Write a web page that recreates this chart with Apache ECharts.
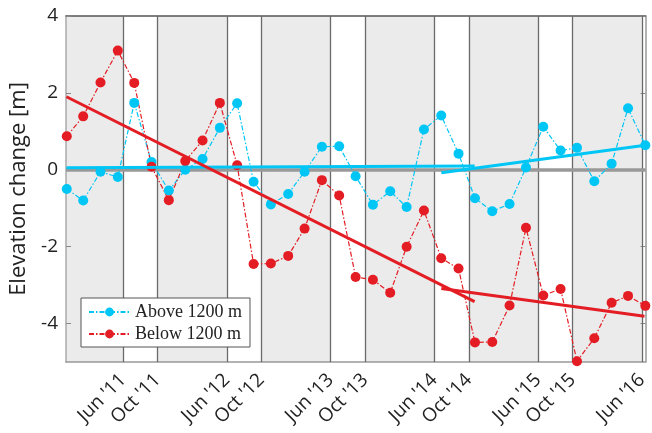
<!DOCTYPE html>
<html>
<head>
<meta charset="utf-8">
<script src="https://cdn.jsdelivr.net/npm/echarts@6/dist/echarts.min.js"></script>
<style>
  html, body { margin: 0; padding: 0; background: #fff; }
  #chart { width: 652px; height: 433px; }
</style>
</head>
<body>
<div id="chart"></div>
<script>
// 时间: 以 2011年1月 = 0 的月份计
var months = [-1.5, 0.4, 2.4, 4.4, 6.3, 8.3, 10.3, 12.2, 14.2, 16.2, 18.2, 20.1,
  22.1, 24.1, 26.0, 28.0, 30.0, 31.9, 33.9, 35.9, 37.8, 39.8, 41.8, 43.8,
  45.7, 47.7, 49.7, 51.6, 53.6, 55.6, 57.5, 59.5, 61.5, 63.4, 65.4];
// Above 1200 m
var aboveVals = [-0.5, -0.8, -0.05, -0.19, 1.74, 0.2, -0.54, 0.0, 0.28, 1.09, 1.73, -0.31,
  -0.9, -0.63, -0.05, 0.6, 0.61, -0.17, -0.91, -0.56, -0.97, 1.05, 1.41, 0.42,
  -0.74, -1.08, -0.89, 0.06, 1.12, 0.5, 0.57, -0.3, 0.16, 1.6, 0.64];
// Below 1200 m
var belowVals = [0.87, 1.39, 2.27, 3.1, 2.26, 0.08, -0.79, 0.23, 0.76, 1.74, 0.12, -2.45,
  -2.44, -2.24, -1.53, -0.27, -0.67, -2.79, -2.86, -3.2, -2.0, -1.06, -2.3, -2.57,
  -4.49, -4.48, -3.53, -1.51, -3.27, -3.1, -4.98, -4.38, -3.46, -3.28, -3.54];
// 趋势线端点 [月份, 值]
var aboveTrendA = [[-1.54, 0.05], [45.66, 0.1]];
var aboveTrendB = [[41.81, -0.08], [65.4, 0.64]];
var belowTrendA = [[-1.54, 1.9], [45.66, -3.43]];
var belowTrendB = [[41.81, -3.09], [65.3, -3.81]];
// 刻度
var tickMonths = [5, 9, 17, 21, 29, 33, 41, 45, 53, 57, 65];
var tickLabels = ["Jun '11", "Oct '11", "Jun '12", "Oct '12", "Jun '13", "Oct '13",
  "Jun '14", "Oct '14", "Jun '15", "Oct '15", "Jun '16"];
var yTicks = [-4, -2, 0, 2, 4];

var xMin = -1.59, xMax = 65.42;
var blue = "#00c6f6", red = "#e31d23";
var labelFont = "Open Sans";

function pairs(xs, ys) {
  return xs.map(function (x, i) { return [x, ys[i]]; });
}

// 灰色背景带 (Oct - Jun)
var bands = [[{ xAxis: xMin }, { xAxis: tickMonths[0] }]];
for (var i = 1; i + 1 < tickMonths.length; i += 2) {
  bands.push([{ xAxis: tickMonths[i] }, { xAxis: tickMonths[i + 1] }]);
}
var vLines = tickMonths.map(function (m) { return { xAxis: m }; });

var chart = echarts.init(document.getElementById("chart"));
var dashDot = [5, 2, 1.5, 2];

var option = {
  animation: false,
  grid: { left: 66, right: 6.5, top: 16, bottom: 71 },
  legend: {
    data: ["Above 1200 m", "Below 1200 m"],
    orient: "vertical",
    left: 81,
    top: 298,
    z: 20,
    itemWidth: 41,
    itemHeight: 11,
    itemGap: 4,
    padding: [5, 8, 4, 7],
    backgroundColor: "#fff",
    borderColor: "#555",
    borderWidth: 1,
    borderRadius: 0,
    textStyle: { fontFamily: "Liberation Serif", fontSize: 18, color: "#222" }
  },
  xAxis: [
    {
      type: "value",
      min: xMin,
      max: xMax,
      axisLine: { show: true, onZero: false, lineStyle: { color: "#999", width: 1.5 } },
      axisTick: { show: false },
      splitLine: { show: false },
      axisLabel: {
        customValues: tickMonths,
        rotate: 45,
        margin: 15,
        fontFamily: labelFont,
        fontSize: 19,
        color: "#222",
        formatter: function (v) {
          var k = tickMonths.indexOf(v);
          return k >= 0 ? tickLabels[k] : "";
        }
      }
    },
    {
      type: "value",
      position: "top",
      min: xMin,
      max: xMax,
      axisLine: { show: true, onZero: false, lineStyle: { color: "#555", width: 1.5 } },
      axisTick: { show: false },
      axisLabel: { show: false },
      splitLine: { show: false }
    }
  ],
  yAxis: [
    {
      type: "value",
      min: -5,
      max: 4,
      name: "Elevation change [m]",
      nameLocation: "middle",
      nameGap: 26,
      nameTextStyle: { fontFamily: labelFont, fontSize: 22, color: "#222" },
      axisLine: { show: true, onZero: false, lineStyle: { color: "#aaa", width: 1.5 } },
      axisTick: { show: true, inside: true, length: 5, customValues: yTicks, lineStyle: { color: "#888" } },
      splitLine: { show: false },
      axisLabel: {
        customValues: yTicks,
        margin: 8,
        fontFamily: labelFont,
        fontSize: 19,
        color: "#222"
      }
    },
    {
      type: "value",
      position: "right",
      min: -5,
      max: 4,
      axisLine: { show: true, onZero: false, lineStyle: { color: "#999", width: 1.5 } },
      axisTick: { show: true, inside: true, length: 5, customValues: yTicks, lineStyle: { color: "#888" } },
      axisLabel: { show: false },
      splitLine: { show: false }
    }
  ],
  series: [
    // 背景: 灰带, 竖线, 零线
    {
      type: "line",
      data: [],
      silent: true,
      z: 0,
      markArea: {
        silent: true,
        z: 0,
        itemStyle: { color: "#ebebeb" },
        data: bands
      },
      markLine: {
        silent: true,
        z: 1,
        symbol: "none",
        label: { show: false },
        data: vLines.concat([{ yAxis: 0, lineStyle: { color: "#999", width: 3.5 } }]),
        lineStyle: { color: "#6a6a6a", width: 1.3, type: "solid" }
      }
    },
    {
      name: "Above 1200 m",
      type: "line",
      data: pairs(months, aboveVals),
      symbol: "circle",
      symbolSize: 10,
      color: blue,
      lineStyle: { width: 1.2, type: dashDot },
      z: 3
    },
    {
      name: "Below 1200 m",
      type: "line",
      data: pairs(months, belowVals),
      symbol: "circle",
      symbolSize: 10,
      color: red,
      lineStyle: { width: 1.2, type: dashDot },
      z: 3
    },
    // 趋势线
    { type: "line", data: aboveTrendA, symbol: "none", color: blue, lineStyle: { width: 3 }, z: 4 },
    { type: "line", data: aboveTrendB, symbol: "none", color: blue, lineStyle: { width: 3 }, z: 4 },
    { type: "line", data: belowTrendA, symbol: "none", color: red, lineStyle: { width: 3 }, z: 4 },
    { type: "line", data: belowTrendB, symbol: "none", color: red, lineStyle: { width: 3 }, z: 4 }
  ]
};

chart.setOption(option);
</script>
</body>
</html>
